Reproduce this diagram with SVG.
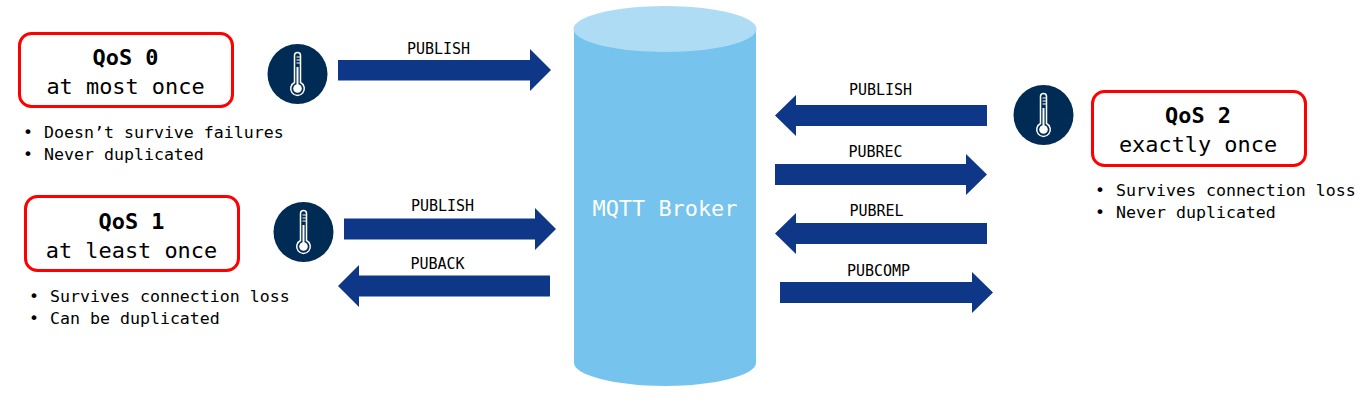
<svg xmlns="http://www.w3.org/2000/svg" width="1368" height="406" viewBox="0 0 1368 406">
<style>
text{font-family:"DejaVu Sans Mono","Liberation Mono",monospace;fill:#000}
.t{font-size:21.9px;text-anchor:middle}
.b{font-weight:bold}
.s{font-size:16.6px}
.l{font-size:15px;text-anchor:middle}
.box{fill:#fff;stroke:#f00;stroke-width:3}
.arrow{fill:#0f3787}
.disc{fill:#002b55}
.th{fill:none;stroke:#fff;stroke-width:1.5}
.thf{fill:#fff}
</style>
<defs>
<g id="thermo">
<circle cx="0" cy="0" r="30" class="disc"/>
<path class="th" d="M-3-18.500a3 3 0 0 1 6 0V8.500a6.800 6.800 0 1 1-6 0Z"/>
<circle cx="0" cy="14.500" r="4.300" class="thf"/>
<rect x="-1" y="-7" width="2" height="20" class="thf"/>
<path d="M-1-17H2.500M-1-14H2.500M-1-11H2.500" stroke="#fff" stroke-width="1.200"/>
</g>
</defs>
<g id="broker">
<path d="M574 29V363C574 375 615 386 665 386S756 375 756 363V29Z" fill="#76c3ee"/>
<ellipse cx="665" cy="29" rx="91.500" ry="23" fill="#aedcf5"/>
<text x="665" y="216" style="font-size:21.900px;text-anchor:middle;fill:#fff">MQTT Broker</text>
</g>
<g id="qos0">
<rect class="box" x="19.500" y="33.500" width="213" height="73" rx="12"/>
<text class="t b" x="125.500" y="65">QoS 0</text>
<text class="t" x="125.500" y="94">at most once</text>
<text class="s" x="23" y="138">•</text><text class="s" x="44" y="138">Doesn’t survive failures</text>
<text class="s" x="23" y="160">•</text><text class="s" x="44" y="160">Never duplicated</text>
</g>
<g id="qos1">
<rect class="box" x="25.500" y="196.500" width="213" height="74" rx="12"/>
<text class="t b" x="131.500" y="229">QoS 1</text>
<text class="t" x="131.500" y="258">at least once</text>
<text class="s" x="29" y="302">•</text><text class="s" x="50" y="302">Survives connection loss</text>
<text class="s" x="29" y="324">•</text><text class="s" x="50" y="324">Can be duplicated</text>
</g>
<g id="qos2">
<rect class="box" x="1092.500" y="91.500" width="213" height="74" rx="12"/>
<text class="t b" x="1198" y="123">QoS 2</text>
<text class="t" x="1198" y="152">exactly once</text>
<text class="s" x="1095" y="196">•</text><text class="s" x="1116" y="196">Survives connection loss</text>
<text class="s" x="1095" y="218">•</text><text class="s" x="1116" y="218">Never duplicated</text>
</g>
<g id="sensor0"><use href="#thermo" x="297.500" y="74"/></g>
<g id="sensor1"><use href="#thermo" x="303.500" y="232"/></g>
<g id="sensor2"><use href="#thermo" x="1043.500" y="115"/></g>
<g id="connectors">
<path class="arrow" d="M338 60H530V49L551 70L530 91V80.500H338Z"/>
<path class="arrow" d="M344 218.500H535V208L556 229L535 250V239.500H344Z"/>
<path class="arrow" d="M550 275.500H359V265L338 286L359 307V296.500H550Z"/>
<path class="arrow" d="M987 105H796V95L775 115.500L796 136V126H987Z"/>
<path class="arrow" d="M775 164H966V154L987 174.500L966 195V185H775Z"/>
<path class="arrow" d="M987 223H796V213L775 233.500L796 254V244H987Z"/>
<path class="arrow" d="M780 282H972V272L993 292.500L972 313V303H780Z"/>
<text class="l" x="438.500" y="53.500">PUBLISH</text>
<text class="l" x="442.500" y="210.500">PUBLISH</text>
<text class="l" x="437.500" y="268.500">PUBACK</text>
<text class="l" x="880.500" y="94.500">PUBLISH</text>
<text class="l" x="875.500" y="156.500">PUBREC</text>
<text class="l" x="876.500" y="215.500">PUBREL</text>
<text class="l" x="878.500" y="275.500">PUBCOMP</text>
</g>
</svg>
